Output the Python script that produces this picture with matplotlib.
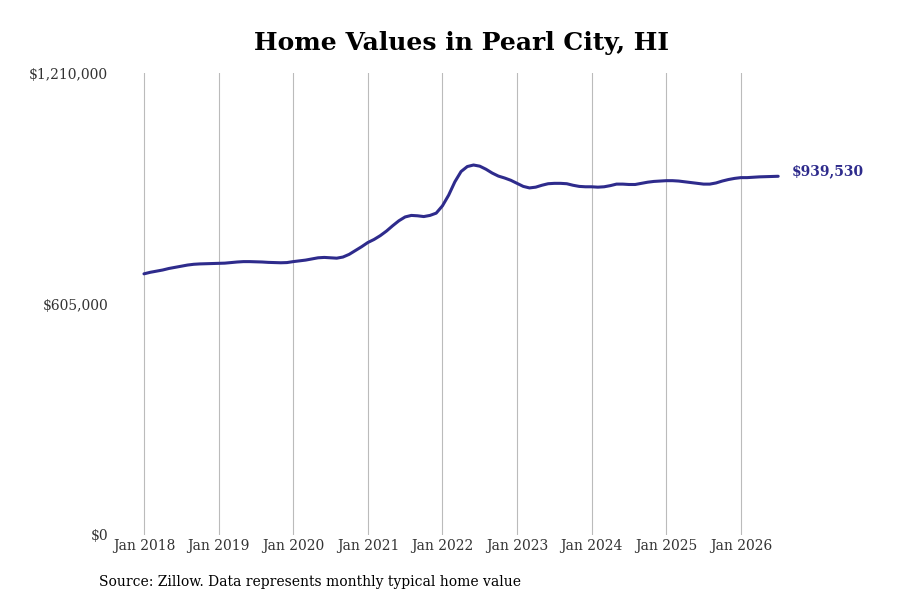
import matplotlib
matplotlib.use("Agg")
import matplotlib.pyplot as plt

plt.rcParams['font.family'] = ['DejaVu Serif']

# monthly typical home value, Jan 2018 .. Jul 2026
values_2018 = [684000, 688000, 691000, 694000, 698000, 701000, 704000, 707000, 709000, 710000, 710500, 711000]
values_2019 = [711500, 712000, 713500, 715000, 716000, 716000, 715500, 715000, 714000, 713500, 713000, 713500]
values_2020 = [716000, 718000, 720000, 723000, 726000, 727000, 726000, 725000, 728000, 735000, 745000, 755000]
values_2021 = [766000, 774000, 784000, 796000, 810000, 823000, 833000, 837000, 836000, 834000, 837000, 843000]
values_2022 = [862000, 890000, 925000, 952000, 965000, 969000, 966000, 958000, 948000, 940000, 935000, 929000]
values_2023 = [921000, 913000, 909000, 911000, 916000, 920000, 921000, 921000, 920000, 916000, 913000, 912000]
values_2024 = [912000, 911000, 912000, 915000, 919000, 919000, 918000, 918000, 921000, 924000, 926000, 927000]
values_2025 = [928000, 928000, 927000, 925000, 923000, 921000, 919000, 919000, 922000, 927000, 931000, 934000]
values_2026 = [936000, 936000, 937000, 938000, 938500, 939000, 939530]

values = (values_2018 + values_2019 + values_2020 + values_2021 + values_2022
          + values_2023 + values_2024 + values_2025 + values_2026)
months = list(range(len(values)))

tick_labels = ["Jan 2018", "Jan 2019", "Jan 2020", "Jan 2021", "Jan 2022",
               "Jan 2023", "Jan 2024", "Jan 2025", "Jan 2026"]
tick_pos = [12 * i for i in range(len(tick_labels))]
y_ticks = [0, 605000, 1210000]
y_labels = ["$0", "$605,000", "$1,210,000"]

line_color = "#2e2b8c"

fig = plt.figure(figsize=(9, 6), dpi=100)
ax = fig.add_axes([115 / 900, 1 - 535 / 600, 675 / 900, 462 / 600])

ax.plot(months, values, color=line_color, linewidth=2.2, solid_capstyle='round')
ax.annotate("${:,}".format(values[-1]), xy=(months[-1], values[-1]),
            xytext=(10, 4), textcoords='offset points', color=line_color,
            fontsize=10, fontweight='bold', va='center', ha='left')

ax.set_xlim(-4.66, 103.9)
ax.set_ylim(0, 1210000)
ax.set_xticks(tick_pos)
ax.set_xticklabels(tick_labels)
ax.set_yticks(y_ticks)
ax.set_yticklabels(y_labels)
ax.tick_params(axis='both', length=0, labelsize=10, labelcolor='#333333')
ax.tick_params(axis='x', pad=3)
ax.tick_params(axis='y', pad=5)
ax.grid(axis='x', color='#bbbbbb', linewidth=0.8)
ax.grid(axis='y', visible=False)
for s in ax.spines.values():
    s.set_visible(False)

fig.text(461 / 900, 1 - 43 / 600, "Home Values in Pearl City, HI", fontsize=18,
         fontweight='bold', ha='center', va='center')
fig.text(99 / 900, 1 - 582 / 600, "Source: Zillow. Data represents monthly typical home value",
         fontsize=10, ha='left', va='center')

fig.savefig("out.png", dpi=100)
